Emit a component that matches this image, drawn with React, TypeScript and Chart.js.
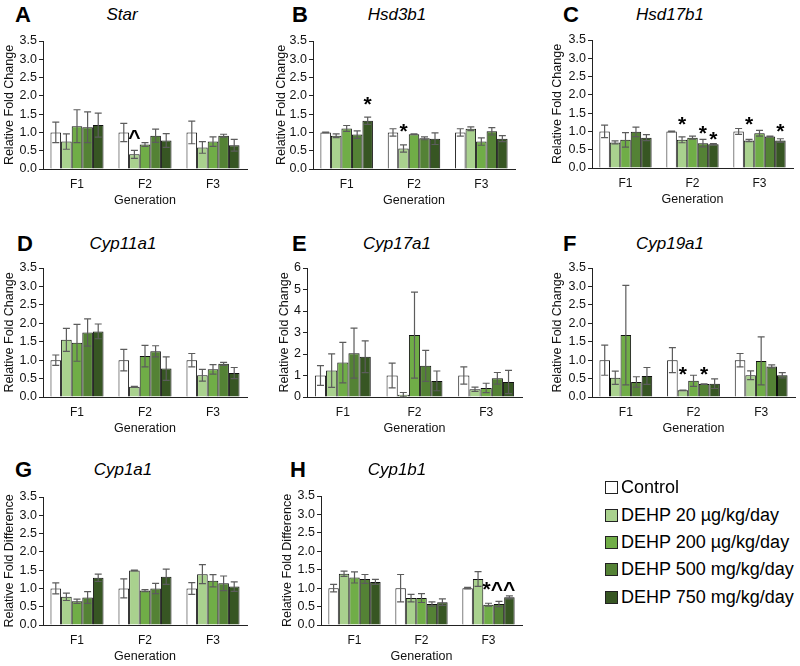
import React, { useEffect, useRef } from 'react';
import { Chart, registerables } from 'chart.js';

Chart.register(...registerables);

const FONT = '"Liberation Sans", Arial, Helvetica, sans-serif';

const generations = ['F1', 'F2', 'F3'];
const seriesNames = ['Control', 'DEHP 20 µg/kg/day', 'DEHP 200 µg/kg/day', 'DEHP 500 mg/kg/day', 'DEHP 750 mg/kg/day'];
const seriesColors = ['#ffffff', '#a9d18e', '#70ad47', '#548235', '#375623'];

// rows = generation (F1, F2, F3); columns = series (Control, 20µg, 200µg, 500mg, 750mg)
const starMean = [[1.0, 0.75, 1.17, 1.14, 1.2], [1.0, 0.4, 0.67, 0.91, 0.78], [1.0, 0.59, 0.75, 0.91, 0.65]];
const starErr = [[0.28, 0.21, 0.45, 0.42, 0.33], [0.25, 0.11, 0.05, 0.18, 0.19], [0.31, 0.16, 0.13, 0.04, 0.16]];

const hsd3b1Mean = [[1.0, 0.91, 1.11, 0.94, 1.32], [1.0, 0.56, 0.95, 0.84, 0.83], [1.0, 1.1, 0.75, 1.03, 0.83]];
const hsd3b1Err = [[0.01, 0.05, 0.08, 0.1, 0.1], [0.1, 0.1, 0.01, 0.04, 0.16], [0.1, 0.05, 0.1, 0.1, 0.08]];

const hsd17b1Mean = [[1.0, 0.7, 0.77, 0.99, 0.83], [1.0, 0.77, 0.83, 0.68, 0.65], [1.0, 0.75, 0.95, 0.86, 0.75]];
const hsd17b1Err = [[0.17, 0.04, 0.2, 0.13, 0.08], [0.01, 0.08, 0.04, 0.1, 0.02], [0.08, 0.03, 0.08, 0.01, 0.05]];

const cyp11a1Mean = [[1.0, 1.55, 1.47, 1.75, 1.78], [1.0, 0.28, 1.11, 1.24, 0.77], [1.0, 0.59, 0.75, 0.9, 0.65]];
const cyp11a1Err = [[0.14, 0.31, 0.5, 0.37, 0.2], [0.29, 0.01, 0.29, 0.15, 0.32], [0.18, 0.16, 0.13, 0.04, 0.15]];

const cyp17a1Mean = [[1.0, 1.23, 1.6, 2.04, 1.87], [1.0, 0.11, 2.88, 1.45, 0.75], [1.0, 0.36, 0.42, 0.87, 0.7]];
const cyp17a1Err = [[0.46, 0.78, 0.94, 1.16, 0.74], [0.58, 0.1, 2.0, 0.72, 0.46], [0.4, 0.1, 0.22, 0.27, 0.54]];

const cyp19a1Mean = [[1.0, 0.52, 1.68, 0.41, 0.57], [1.0, 0.18, 0.44, 0.35, 0.36], [1.0, 0.59, 0.98, 0.83, 0.59]];
const cyp19a1Err = [[0.41, 0.18, 1.35, 0.14, 0.23], [0.34, 0.01, 0.15, 0.01, 0.13], [0.18, 0.12, 0.65, 0.04, 0.07]];

const cyp1a1Mean = [[1.0, 0.77, 0.65, 0.75, 1.29], [1.0, 1.49, 0.94, 1.0, 1.32], [1.0, 1.39, 1.21, 1.14, 1.05]];
const cyp1a1Err = [[0.15, 0.1, 0.06, 0.16, 0.1], [0.26, 0.01, 0.03, 0.14, 0.21], [0.16, 0.26, 0.17, 0.2, 0.13]];

const cyp1b1Mean = [[1.0, 1.39, 1.29, 1.25, 1.17], [1.0, 0.73, 0.73, 0.57, 0.62], [1.0, 1.25, 0.55, 0.57, 0.75]];
const cyp1b1Err = [[0.1, 0.07, 0.15, 0.12, 0.07], [0.37, 0.1, 0.12, 0.06, 0.09], [0.02, 0.2, 0.04, 0.07, 0.04]];

// significance marks: generation index, series index, y value, text
const starMarks = [{ gen: 1, series: 1, y: 0.99, text: '^' }];
const hsd3b1Marks = [{ gen: 0, series: 4, y: 1.91, text: '*' }, { gen: 1, series: 1, y: 1.17, text: '*' }];
const hsd17b1Marks = [
  { gen: 1, series: 1, y: 1.32, text: '*' },
  { gen: 1, series: 3, y: 1.08, text: '*' },
  { gen: 1, series: 4, y: 0.93, text: '*' },
  { gen: 2, series: 1, y: 1.32, text: '*' },
  { gen: 2, series: 4, y: 1.14, text: '*' },
];
const cyp19a1Marks = [{ gen: 1, series: 1, y: 0.75, text: '*' }, { gen: 1, series: 3, y: 0.75, text: '*' }];
const cyp1b1Marks = [{ gen: 2, series: 3, y: 1.09, text: '*^^' }];

const yTitleChange = 'Relative Fold Change';
const yTitleDiff = 'Relative Fold Difference';

type Mark = { gen: number; series: number; y: number; text: string };
type PanelSpec = {
  letter: string; gene: string; mean: number[][]; err: number[][]; marks: Mark[];
  yMax: number; yStep: number; yDec: number; yTitle: string;
  area: [number, number, number, number]; yw: number; titleX: number; titleY: number; letterX: number;
};

const panels: PanelSpec[] = [
  { letter: 'A', gene: 'Star', mean: starMean, err: starErr, marks: starMarks, yMax: 3.5, yStep: 0.5, yDec: 1, yTitle: yTitleChange, area: [43, 41, 247, 169], yw: 42, titleX: 122, titleY: 15, letterX: 15 },
  { letter: 'B', gene: 'Hsd3b1', mean: hsd3b1Mean, err: hsd3b1Err, marks: hsd3b1Marks, yMax: 3.5, yStep: 0.5, yDec: 1, yTitle: yTitleChange, area: [313, 41, 515, 169], yw: 40, titleX: 397, titleY: 15, letterX: 292 },
  { letter: 'C', gene: 'Hsd17b1', mean: hsd17b1Mean, err: hsd17b1Err, marks: hsd17b1Marks, yMax: 3.5, yStep: 0.5, yDec: 1, yTitle: yTitleChange, area: [592, 40, 793, 168], yw: 43, titleX: 670, titleY: 15, letterX: 563 },
  { letter: 'D', gene: 'Cyp11a1', mean: cyp11a1Mean, err: cyp11a1Err, marks: [], yMax: 3.5, yStep: 0.5, yDec: 1, yTitle: yTitleChange, area: [43, 268, 247, 397], yw: 42, titleX: 123, titleY: 244, letterX: 17 },
  { letter: 'E', gene: 'Cyp17a1', mean: cyp17a1Mean, err: cyp17a1Err, marks: [], yMax: 6, yStep: 1, yDec: 0, yTitle: yTitleChange, area: [307, 268, 522, 397], yw: 31, titleX: 397, titleY: 244, letterX: 292 },
  { letter: 'F', gene: 'Cyp19a1', mean: cyp19a1Mean, err: cyp19a1Err, marks: cyp19a1Marks, yMax: 3.5, yStep: 0.5, yDec: 1, yTitle: yTitleChange, area: [592, 268, 795, 397], yw: 43, titleX: 670, titleY: 244, letterX: 563 },
  { letter: 'G', gene: 'Cyp1a1', mean: cyp1a1Mean, err: cyp1a1Err, marks: [], yMax: 3.5, yStep: 0.5, yDec: 1, yTitle: yTitleDiff, area: [43, 497, 247, 625], yw: 42, titleX: 123, titleY: 470, letterX: 15 },
  { letter: 'H', gene: 'Cyp1b1', mean: cyp1b1Mean, err: cyp1b1Err, marks: cyp1b1Marks, yMax: 3.5, yStep: 0.5, yDec: 1, yTitle: yTitleDiff, area: [321, 496, 522, 625], yw: 42, titleX: 397, titleY: 470, letterX: 290 },
];

const errorBarPlugin = {
  id: 'errorBars',
  afterDatasetsDraw(chart: any) {
    const ctx = chart.ctx;
    const ys = chart.scales.y;
    ctx.save();
    ctx.strokeStyle = '#5c5c5c';
    ctx.lineWidth = 1.2;
    chart.data.datasets.forEach((ds: any, i: number) => {
      const meta = chart.getDatasetMeta(i);
      meta.data.forEach((bar: any, j: number) => {
        const v = ds.data[j];
        const e = ds.err[j];
        const x = bar.x;
        const yt = ys.getPixelForValue(v + e);
        const yb = ys.getPixelForValue(Math.max(0, v - e));
        const cw = 3.5;
        ctx.beginPath();
        ctx.moveTo(x, yt); ctx.lineTo(x, yb);
        ctx.moveTo(x - cw, yt); ctx.lineTo(x + cw, yt);
        ctx.moveTo(x - cw, yb); ctx.lineTo(x + cw, yb);
        ctx.stroke();
      });
    });
    ctx.restore();
  },
};

const marksPlugin = {
  id: 'sigMarks',
  afterDatasetsDraw(chart: any, _args: any, opts: any) {
    const marks: Mark[] = opts.marks || [];
    const ctx = chart.ctx;
    const ys = chart.scales.y;
    const size = 21;
    ctx.save();
    ctx.fillStyle = '#000';
    ctx.font = `bold ${size}px ${FONT}`;
    ctx.textAlign = 'center';
    ctx.textBaseline = 'alphabetic';
    marks.forEach((m) => {
      const bar = chart.getDatasetMeta(m.series).data[m.gen];
      const py = ys.getPixelForValue(m.y);
      ctx.fillText(m.text, bar.x, py + 0.55 * size);
    });
    ctx.restore();
  },
};

const PT = 10;
const PR = 4;
const XH = 39;

function Panel({ p }: { p: PanelSpec }) {
  const ref = useRef<HTMLCanvasElement>(null);
  const left = p.area[0] - p.yw;
  const top = p.area[1] - PT;
  const width = p.area[2] + PR - left;
  const height = p.area[3] + XH - top;

  useEffect(() => {
    if (!ref.current) return;
    const chart = new Chart(ref.current, {
      type: 'bar',
      data: {
        labels: generations,
        datasets: seriesNames.map((name, s) => ({
          label: name,
          data: p.mean.map((row) => row[s]),
          err: p.err.map((row) => row[s]),
          backgroundColor: seriesColors[s],
          borderColor: '#111',
          borderWidth: 1,
          barPercentage: 1,
          categoryPercentage: 0.78,
        })) as any,
      },
      options: {
        responsive: false,
        animation: false,
        devicePixelRatio: 1,
        layout: { padding: { top: PT, right: PR, bottom: 0, left: 0 } },
        plugins: {
          legend: { display: false },
          tooltip: { enabled: false },
          title: { display: false },
          sigMarks: { marks: p.marks },
        } as any,
        scales: {
          x: {
            grid: { display: false, drawTicks: false },
            border: { display: true, color: '#222', width: 1 },
            ticks: { font: { family: FONT, size: 12 }, color: '#111', padding: 8 },
            title: { display: true, text: 'Generation', font: { family: FONT, size: 12.5 }, color: '#111', padding: { top: 0, bottom: 0 } },
            afterFit: (s: any) => { s.height = XH; },
          },
          y: {
            min: 0,
            max: p.yMax,
            ticks: {
              stepSize: p.yStep,
              callback: (v: any) => Number(v).toFixed(p.yDec),
              font: { family: FONT, size: 12.5 },
              color: '#111',
              padding: 2,
            },
            grid: { display: true, drawOnChartArea: false, drawTicks: true, tickLength: 4, color: '#222' },
            border: { display: true, color: '#222', width: 1 },
            title: { display: true, text: p.yTitle, font: { family: FONT, size: 12.5 }, color: '#111', padding: { top: 1, bottom: 0 } },
            afterFit: (s: any) => { s.width = p.yw; },
          },
        },
      } as any,
      plugins: [errorBarPlugin, marksPlugin],
    });
    return () => chart.destroy();
  }, []);

  return (
    <>
      <canvas
        ref={ref}
        width={width}
        height={height}
        style={{ position: 'absolute', left, top, width, height }}
      />
      <div style={{ position: 'absolute', left: p.letterX, top: p.titleY - 13, height: 26, lineHeight: '26px', fontFamily: FONT, fontWeight: 'bold', fontSize: 22, color: '#000' }}>
        {p.letter}
      </div>
      <div style={{ position: 'absolute', left: p.titleX - 100, width: 200, top: p.titleY - 11, height: 22, lineHeight: '22px', textAlign: 'center', fontFamily: FONT, fontStyle: 'italic', fontSize: 17, color: '#000' }}>
        {p.gene}
      </div>
    </>
  );
}

const legendRowsY = [487, 515, 542, 569, 597];

export default function App() {
  return (
    <div style={{ position: 'absolute', left: 0, top: 0, width: 800, height: 666, background: '#fff', overflow: 'hidden' }}>
      {panels.map((p) => <Panel key={p.letter} p={p} />)}
      {seriesNames.map((name, i) => (
        <div key={name} style={{ position: 'absolute', left: 605, top: legendRowsY[i] - 11, height: 22, display: 'flex', alignItems: 'center', fontFamily: FONT, fontSize: 18, color: '#000', whiteSpace: 'nowrap' }}>
          <span style={{ display: 'inline-block', width: 11, height: 11, background: seriesColors[i], border: '1px solid #222', marginRight: 3 }} />
          <span>{name}</span>
        </div>
      ))}
    </div>
  );
}
